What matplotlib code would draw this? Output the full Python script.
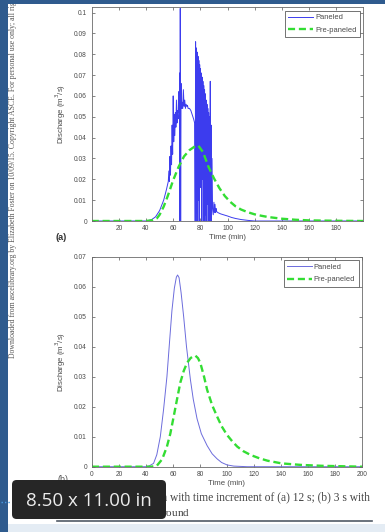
import matplotlib
matplotlib.use("Agg")
import matplotlib.pyplot as plt
from matplotlib.patches import Rectangle, FancyBboxPatch
from matplotlib.lines import Line2D

# ---------------- data ----------------
# (a) time increment 12 s -- paneled (noisy) and pre-paneled
a_pan_t = [0, 40, 44, 47, 50, 53, 55, 56.4,
           56.8, 57.2, 57.6, 58.0, 58.4, 58.8, 59.2, 59.6, 60.0, 60.4, 60.8, 61.2,
           61.6, 62.0, 62.4, 62.8, 63.2, 63.6, 64.0, 64.4, 64.8, 65.0, 65.2, 65.5,
           65.8, 66.1, 66.5, 67.0, 67.5, 68.0, 68.5, 69.0, 69.5, 70.0, 70.5, 71.0,
           72.0, 73.0, 74.0, 75.0, 75.8,
           76.2, 76.5, 76.8, 77.1, 77.4, 77.7, 78.0, 78.3, 78.6, 78.9, 79.2, 79.5,
           79.8, 80.1, 80.4, 80.7, 81.0, 81.3, 81.6, 81.9, 82.2, 82.5, 82.8, 83.1,
           83.4, 83.7, 84.0, 84.3, 84.6, 84.9, 85.2, 85.5, 85.8, 86.1, 86.4, 86.7,
           87.0, 87.3, 87.6, 87.9, 88.2, 88.6,
           89.0, 89.5, 90.0, 90.4, 90.8, 91.2, 91.6, 92.0, 93.0, 95.0, 98.0,
           100, 103, 106, 110, 115, 120, 200]
a_pan_q = [0, 0, 0.0006, 0.002, 0.005, 0.010, 0.015, 0.019,
           0.024, 0.019, 0.031, 0.022, 0.036, 0.027, 0.046, 0.032, 0.060, 0.038,
           0.051, 0.041, 0.052, 0.045, 0.058, 0.047, 0.053, 0.049, 0.062, 0.052,
           0.071, 0.000, 0.102, 0.000, 0.066, 0.054, 0.057, 0.054, 0.063, 0.055,
           0.058, 0.054, 0.056, 0.055, 0.0555, 0.054,
           0.054, 0.053, 0.051, 0.049, 0.047,
           0.000, 0.086, 0.000, 0.083, 0.004, 0.081, 0.000, 0.079, 0.010, 0.077,
           0.000, 0.075, 0.018, 0.073, 0.016, 0.071, 0.000, 0.069, 0.020, 0.067,
           0.000, 0.065, 0.012, 0.063, 0.000, 0.061, 0.003, 0.058, 0.000, 0.056,
           0.008, 0.054, 0.000, 0.052, 0.000, 0.050, 0.005, 0.067, 0.000, 0.046,
           0.000, 0.030,
           0.006, 0.003, 0.009, 0.004, 0.008, 0.004, 0.006, 0.0045, 0.0040,
           0.0034, 0.0028, 0.0024, 0.0017, 0.0012, 0.0007, 0.0003, 0.0, 0.0]

a_pre_t = [0, 40, 44, 48, 50, 53, 56, 60, 64, 68, 72, 76, 78.6, 82, 86, 90, 94,
           98, 102, 106, 110, 115, 120, 125, 130, 140, 150, 160, 170, 180, 200]
a_pre_q = [0, 0, 0.0003, 0.0013, 0.0030, 0.0069, 0.0120, 0.0196, 0.0260, 0.0310,
           0.0340, 0.0358, 0.0361, 0.0330, 0.0260, 0.0205, 0.0158, 0.0120, 0.0092,
           0.0070, 0.0055, 0.0042, 0.0032, 0.0025, 0.0019, 0.0011, 0.0006, 0.0003,
           0.0002, 0.0001, 0.0]

# (b) time increment 3 s
b_pan_t = [0, 40, 42.5, 45.6, 48, 50.6, 53, 55.5, 57.5, 59.2, 61, 62.5, 63.4, 64.5,
           66, 67.9, 70, 72.9, 75, 77.8, 81, 85.3, 89, 92.7, 96, 100, 105, 110, 115, 200]
b_pan_q = [0, 0, 0.0003, 0.0011, 0.0040, 0.0100, 0.0190, 0.0300, 0.0420, 0.0520,
           0.0595, 0.0632, 0.0639, 0.0630, 0.0580, 0.0500, 0.0400, 0.0290, 0.0225,
           0.0160, 0.0110, 0.0070, 0.0043, 0.0026, 0.0014, 0.0006, 0.0002, 0.0001,
           0.0, 0.0]
b_pre_t = [0, 44, 48, 52, 55.5, 58, 60.5, 63, 65.4, 68, 70.4, 73, 75, 76.6, 78.5,
           80.3, 83, 85.3, 89, 92.7, 96, 100, 104, 107.6, 112, 117.5, 124, 130,
           140.5, 154.6, 170, 180, 200]
b_pre_q = [0, 0, 0.0003, 0.0025, 0.0067, 0.0110, 0.0167, 0.0225, 0.0280, 0.0320,
           0.0346, 0.0362, 0.0368, 0.0370, 0.0362, 0.0345, 0.0300, 0.0256, 0.0205,
           0.0167, 0.0135, 0.0106, 0.0084, 0.0067, 0.0052, 0.0039, 0.0028, 0.0020,
           0.0011, 0.0006, 0.0003, 0.0002, 0.0]

series_labels = ["Paneled", "Pre-paneled"]
a_xticks = [20, 40, 60, 80, 100, 120, 140, 160, 180]
a_yticks = [0, 0.01, 0.02, 0.03, 0.04, 0.05, 0.06, 0.07, 0.08, 0.09, 0.1]
a_yticklabels = ["0", "0.01", "0.02", "0.03", "0.04", "0.05", "0.06", "0.07",
                 "0.08", "0.09", "0.1"]
b_xticks = [0, 20, 40, 60, 80, 100, 120, 140, 160, 180, 200]
b_yticks = [0, 0.01, 0.02, 0.03, 0.04, 0.05, 0.06, 0.07]
b_yticklabels = ["0", "0.01", "0.02", "0.03", "0.04", "0.05", "0.06", "0.07"]

# ---------------- figure ----------------
W, H = 385, 532
fig = plt.figure(figsize=(W / 100, H / 100), dpi=100)
fig.patch.set_facecolor("white")

def fx(x):
    return x / W

def fy(y):
    return 1 - y / H

SANS = ["Liberation Sans", "DejaVu Sans"]
SERIF = ["Liberation Serif", "DejaVu Serif"]
TXT = "#4a4a4a"
PRE_C = "#33dd33"

def style_axes(ax, xticks, yticks, yticklabels, xlim, ylim):
    ax.set_xlim(*xlim)
    ax.set_ylim(*ylim)
    ax.set_xticks(xticks)
    ax.set_xticklabels([str(v) for v in xticks])
    ax.set_yticks(yticks)
    ax.set_yticklabels(yticklabels)
    ax.tick_params(direction="in", length=2.5, width=0.5, colors="#555555",
                   labelsize=4.8, labelcolor=TXT, top=True, right=True)
    ax.tick_params(axis="x", pad=2.8)
    ax.tick_params(axis="y", pad=3.6)
    for lab in ax.get_xticklabels() + ax.get_yticklabels():
        lab.set_family(SANS)
    for s in ax.spines.values():
        s.set_color("#6a6a6a")
        s.set_linewidth(0.6)
    ax.set_xlabel("Time (min)", fontsize=5.6, color=TXT, family=SANS, labelpad=1.8)
    ax.set_ylabel("Discharge (m$^3$/s)", fontsize=5.6, color=TXT, family=SANS,
                  labelpad=4.5)
    leg = ax.legend(loc="upper right", handlelength=3.3,
                    frameon=True, fancybox=False, borderaxespad=0.45,
                    borderpad=0.45, labelspacing=0.7, handletextpad=0.25,
                    prop={"family": SANS, "size": 5.4})
    leg.get_frame().set_edgecolor("#333333")
    leg.get_frame().set_linewidth(0.6)
    for t in leg.get_texts():
        t.set_color(TXT)

# panel (a)
ax1 = fig.add_axes([fx(92), fy(221), fx(363) - fx(92), fy(7.3) - fy(221)])
ax1.plot(a_pan_t, a_pan_q, color="#3c3cee", lw=0.7, label=series_labels[0])
ax1.plot(a_pre_t, a_pre_q, color=PRE_C, lw=1.7, ls=(0, (3.0, 1.6)),
         label=series_labels[1])
style_axes(ax1, a_xticks, a_yticks, a_yticklabels, (0.2, 199.8), (0, 0.1025))

# panel (b)
ax2 = fig.add_axes([fx(92), fy(466.7), fx(362) - fx(92), fy(256.7) - fy(466.7)])
ax2.plot(b_pan_t, b_pan_q, color="#6c6cdc", lw=0.7, label=series_labels[0])
ax2.plot(b_pre_t, b_pre_q, color=PRE_C, lw=1.7, ls=(0, (3.0, 1.6)),
         label=series_labels[1])
style_axes(ax2, b_xticks, b_yticks, b_yticklabels, (0, 200), (0, 0.07))

# panel letters
fig.text(fx(56), fy(237), "(a)", fontsize=6.6, color="#333333", family=SANS,
         fontweight="bold", va="center")
fig.text(fx(58), fy(479.5), "(b)", fontsize=6.4, color="#555555", family=SANS,
         va="center")

# page decorations
fig.add_artist(Rectangle((0, 0), fx(8), 1, transform=fig.transFigure,
                         facecolor="#2f5b8e", edgecolor="none", zorder=5))
fig.add_artist(Rectangle((0, fy(3.5)), 1, 3.5 / H, transform=fig.transFigure,
                         facecolor="#2f5b8e", edgecolor="none", zorder=5))
fig.add_artist(Rectangle((0, 0), 1, 8 / H, transform=fig.transFigure,
                         facecolor="#e4ecf4", edgecolor="none", zorder=1))
fig.text(fx(13.5), fy(358),
         "Downloaded from ascelibrary.org by Elizabeth Foster on 10/09/15. "
         "Copyright ASCE. For personal use only; all rights reserved.",
         rotation=90, fontsize=5.6, color="#555555", family=SERIF,
         ha="center", va="bottom", zorder=4)

# caption
fig.text(fx(370), fy(498), "Fig. 4. Hydrograph with time increment of (a) 12 s; (b) 3 s with",
         fontsize=8.3, color="#444444", family=SERIF, ha="right", va="center",
         zorder=2)
fig.text(fx(57), fy(512.5), "Manning\u2019s $n$ for bare ground", fontsize=8.1,
         color="#444444", family=SERIF, ha="left", va="center", zorder=2)
fig.add_artist(Line2D([fx(57), fx(372)], [fy(521), fy(521)],
                      transform=fig.transFigure, color="#505a66", lw=1.2, zorder=2))

# size overlay
fig.add_artist(FancyBboxPatch((fx(12), fy(519)), fx(166) - fx(12), 39 / H,
                              boxstyle="round,pad=0,rounding_size=0.012",
                              transform=fig.transFigure, facecolor="#262626",
                              edgecolor="none", zorder=10, mutation_aspect=W / H))
fig.text(fx(89), fy(501), "8.50 x 11.00 in", fontsize=13.5, color="#ececec",
         family=["Open Sans", "DejaVu Sans"], ha="center", va="center", zorder=11)
fig.add_artist(Line2D([fx(0.5), fx(10)], [fy(502), fy(502)],
                      transform=fig.transFigure, color="#4a9ae0", lw=1.0,
                      ls=(0, (1, 1.5)), zorder=6))

fig.savefig("out.png", dpi=100, facecolor="white")
